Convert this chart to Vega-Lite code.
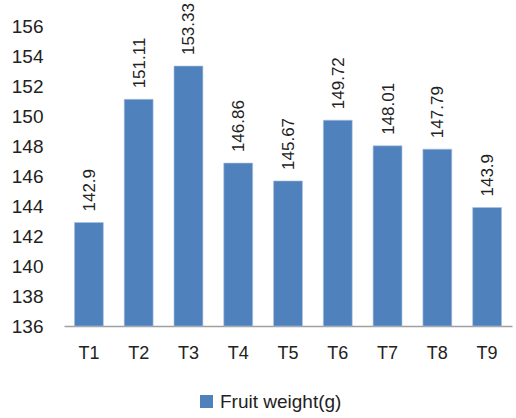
{
  "$schema": "https://vega.github.io/schema/vega-lite/v6.json",
  "width": 448,
  "height": 300,
  "autosize": {"type": "none"},
  "padding": {"left": 64, "top": 26, "right": 4, "bottom": 92},
  "background": "white",
  "config": {"view": {"stroke": null}, "font": "Liberation Sans"},
  "data": {"values": [
    {"t": "T1", "w": 142.9, "s": "Fruit weight(g)"},
    {"t": "T2", "w": 151.11, "s": "Fruit weight(g)"},
    {"t": "T3", "w": 153.33, "s": "Fruit weight(g)"},
    {"t": "T4", "w": 146.86, "s": "Fruit weight(g)"},
    {"t": "T5", "w": 145.67, "s": "Fruit weight(g)"},
    {"t": "T6", "w": 149.72, "s": "Fruit weight(g)"},
    {"t": "T7", "w": 148.01, "s": "Fruit weight(g)"},
    {"t": "T8", "w": 147.79, "s": "Fruit weight(g)"},
    {"t": "T9", "w": 143.9, "s": "Fruit weight(g)"}
  ]},
  "encoding": {
    "x": {"field": "t", "type": "nominal", "sort": null,
      "scale": {"paddingInner": 0.42, "paddingOuter": 0.21},
      "axis": {"title": null, "labelAngle": 0, "ticks": false, "domainColor": "#a0a0a0", "domainWidth": 1.5, "labelFontSize": 18, "labelColor": "#222", "labelPadding": 18}},
    "y": {"field": "w", "type": "quantitative",
      "scale": {"domain": [136, 156], "zero": false, "nice": false},
      "axis": {"title": null, "values": [136,138,140,142,144,146,148,150,152,154,156], "domain": false, "ticks": false, "grid": false, "labelFontSize": 19, "labelColor": "#222", "labelPadding": 21}}
  },
  "layer": [
    {"mark": {"type": "bar", "stroke": "#a9c1e0", "strokeWidth": 0.6},
     "encoding": {
       "y2": {"datum": 136},
       "color": {"field": "s", "type": "nominal", "scale": {"range": ["#4F81BD"]},
         "legend": {"title": null, "orient": "none", "legendX": 133, "legendY": 366, "symbolType": "square", "symbolSize": 169, "symbolStrokeWidth": 0, "labelFontSize": 19, "labelColor": "#222", "labelOffset": 4}}
     }},
    {"mark": {"type": "text", "angle": -90, "align": "left", "baseline": "middle", "dx": 11, "dy": 1, "fontSize": 17, "color": "#222"},
     "encoding": {"text": {"field": "w", "type": "quantitative", "format": ".2~f"}}}
  ]
}
